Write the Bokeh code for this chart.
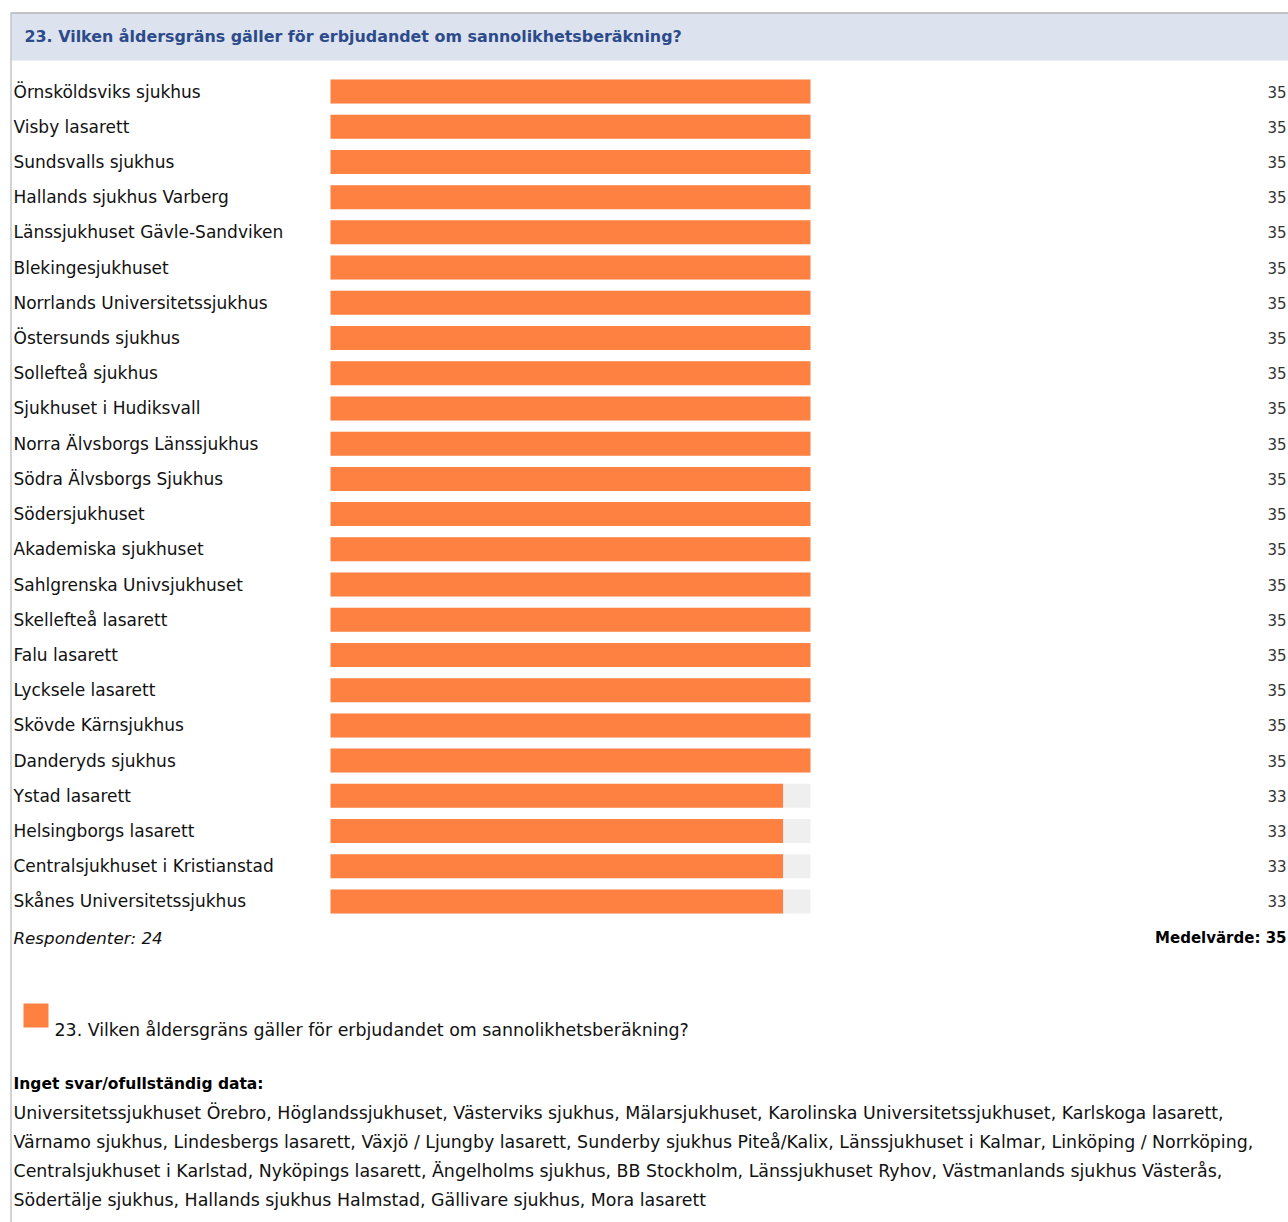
from bokeh.plotting import figure
from bokeh.models import Range1d, ColumnDataSource
from bokeh.core.properties import value
from bokeh.embed import file_html
from bokeh.resources import INLINE

# ---------------- data ----------------
title = "23. Vilken åldersgräns gäller för erbjudandet om sannolikhetsberäkning?"
hospitals = [
    "Örnsköldsviks sjukhus", "Visby lasarett", "Sundsvalls sjukhus", "Hallands sjukhus Varberg",
    "Länssjukhuset Gävle-Sandviken", "Blekingesjukhuset", "Norrlands Universitetssjukhus",
    "Östersunds sjukhus", "Sollefteå sjukhus", "Sjukhuset i Hudiksvall", "Norra Älvsborgs Länssjukhus",
    "Södra Älvsborgs Sjukhus", "Södersjukhuset", "Akademiska sjukhuset", "Sahlgrenska Univsjukhuset",
    "Skellefteå lasarett", "Falu lasarett", "Lycksele lasarett", "Skövde Kärnsjukhus",
    "Danderyds sjukhus", "Ystad lasarett", "Helsingborgs lasarett", "Centralsjukhuset i Kristianstad",
    "Skånes Universitetssjukhus",
]
values = [35, 35, 35, 35, 35, 35, 35, 35, 35, 35, 35, 35, 35, 35, 35, 35, 35, 35, 35, 35, 33, 33, 33, 33]
scale_max = 35
respondents = 24
mean_value = 35
no_answer = [
    "Universitetssjukhuset Örebro", "Höglandssjukhuset", "Västerviks sjukhus", "Mälarsjukhuset",
    "Karolinska Universitetssjukhuset", "Karlskoga lasarett",
    "Värnamo sjukhus", "Lindesbergs lasarett", "Växjö / Ljungby lasarett", "Sunderby sjukhus Piteå/Kalix",
    "Länssjukhuset i Kalmar", "Linköping / Norrköping",
    "Centralsjukhuset i Karlstad", "Nyköpings lasarett", "Ängelholms sjukhus", "BB Stockholm",
    "Länssjukhuset Ryhov", "Västmanlands sjukhus Västerås",
    "Södertälje sjukhus", "Hallands sjukhus Halmstad", "Gällivare sjukhus", "Mora lasarett",
]
no_answer_line_sizes = [6, 6, 6, 4]

# ---------------- layout constants (pixels) ----------------
W, H = 1288, 1222
M = 0
BAR_X0, BAR_X1 = 330, 810  # screen px of 0 and scale_max
ROW0, ROW_STEP = 91, 35.217
BAR_H_PX = 24

ppu_x = (BAR_X1 - BAR_X0) / scale_max
x_start = -(BAR_X0 - M) / ppu_x
x_end = x_start + W / ppu_x
y_top = -(ROW0 - M) / ROW_STEP
y_bot = y_top + H / ROW_STEP

def dx(px):
    return x_start + (px - M) / ppu_x

def dy(py):
    return y_top + (py - M) / ROW_STEP

FONT = "DejaVu Sans"
orange = "#ff8142"

p = figure(width=W, height=H, output_backend="svg", toolbar_location=None,
           x_range=Range1d(x_start, x_end), y_range=Range1d(y_bot, y_top),
           min_border=0, min_border_left=0, min_border_right=0, min_border_top=0, min_border_bottom=0)
p.axis.visible = False
p.grid.visible = False
p.outline_line_color = None
p.background_fill_color = "white"
p.border_fill_color = "white"

# header band
p.quad(left=[dx(10.5)], right=[dx(1300)], top=[dy(12)], bottom=[dy(60)],
       fill_color="#dce3ee", line_color=None)
p.segment(x0=[dx(10.5)], y0=[dy(12.5)], x1=[dx(1300)], y1=[dy(12.5)], line_color="#b4b4b4", line_width=1.5)
p.segment(x0=[dx(10.5)], y0=[dy(12)], x1=[dx(10.5)], y1=[dy(1230)], line_color="#c4c4c4", line_width=1.5)
p.text(x=[dx(24)], y=[dy(36)], text=[title], text_font=value(FONT), text_font_style="bold",
       text_font_size="15.9px", text_color="#2d4a8a", text_baseline="middle")

# bars
rows = list(range(len(hospitals)))
src = ColumnDataSource(dict(y=rows, v=values, vmax=[scale_max] * len(rows), name=hospitals,
                            label=[str(v) for v in values]))
bh = BAR_H_PX / ROW_STEP
p.hbar(y="y", left=0, right="vmax", height=bh, source=src, fill_color="#efefef", line_color=None)
p.hbar(y="y", left=0, right="v", height=bh, source=src, fill_color=orange, line_color=None)

p.text(x=dx(13), y="y", text="name", source=src, text_font=value(FONT), text_font_size="17px",
       text_color="#111111", text_baseline="middle")
p.text(x=dx(1286), y="y", text="label", source=src, text_font=value(FONT), text_font_size="15px",
       text_color="#333333", text_baseline="middle", text_align="right")

# footer
p.text(x=[dx(13)], y=[dy(937)], text=[f"Respondenter: {respondents}"], text_font=value(FONT),
       text_font_style="italic", text_font_size="16.7px", text_color="#111111", text_baseline="middle")
p.text(x=[dx(1286)], y=[dy(937)], text=[f"Medelvärde: {mean_value}"], text_font=value(FONT),
       text_font_style="bold", text_font_size="15px", text_color="#000000", text_baseline="middle",
       text_align="right")

# legend
p.quad(left=[dx(23)], right=[dx(48)], top=[dy(1003)], bottom=[dy(1027)], fill_color=orange, line_color=None)
p.text(x=[dx(54)], y=[dy(1029)], text=[title], text_font=value(FONT), text_font_size="17.4px",
       text_color="#111111", text_baseline="middle")

# no answer block
p.text(x=[dx(13)], y=[dy(1083)], text=["Inget svar/ofullständig data:"], text_font=value(FONT),
       text_font_style="bold", text_font_size="15.5px", text_color="#000000", text_baseline="middle")
lines = []
i = 0
for n in no_answer_line_sizes:
    chunk = no_answer[i:i + n]
    i += n
    s = ", ".join(chunk)
    if i < len(no_answer):
        s += ","
    lines.append(s)
p.text(x=[dx(13)] * len(lines), y=[dy(1112 + 29 * k) for k in range(len(lines))], text=lines,
       text_font=value(FONT), text_font_size="17.4px", text_color="#111111", text_baseline="middle")

open("out.html", "w").write(file_html(p, INLINE))
